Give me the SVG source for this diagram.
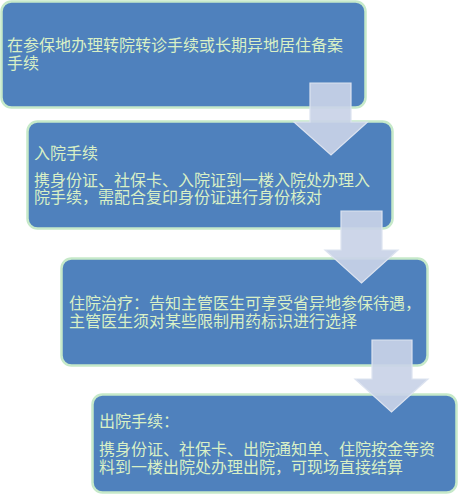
<svg xmlns="http://www.w3.org/2000/svg" width="458" height="495" viewBox="0 0 458 495">
<style>
.box{fill:#4F81BD;stroke:#C6E9C9;stroke-width:2.5}
.t{font-family:"Noto Sans CJK SC","Noto Sans CJK JP",sans-serif;font-size:16px;fill:#D9F0C6}
.arr{fill:#C9D3E7;fill-opacity:0.92;stroke:#DCE3F0;stroke-width:1.2}
</style>
<rect width="458" height="495" fill="#FFFFFF"/>
<g id="node1">
<rect class="box" x="1.5" y="1.5" width="364" height="106" rx="10"/>
<text class="t" x="7" y="51">在参保地办理转院转诊手续或长期异地居住备案</text>
<text class="t" x="7" y="69">手续</text>
</g>
<g id="node2">
<rect class="box" x="27.5" y="121.5" width="365" height="107" rx="10"/>
<text class="t" x="34" y="159">入院手续</text>
<text class="t" x="34" y="186">携身份证、社保卡、入院证到一楼入院处办理入</text>
<text class="t" x="34" y="203">院手续，需配合复印身份证进行身份核对</text>
</g>
<g id="node3">
<rect class="box" x="61.5" y="258.5" width="366" height="107" rx="10"/>
<text class="t" x="69" y="309">住院治疗：告知主管医生可享受省异地参保待遇，</text>
<text class="t" x="69" y="327">主管医生须对某些限制用药标识进行选择</text>
</g>
<g id="node4">
<rect class="box" x="92.5" y="394.5" width="364" height="98" rx="10"/>
<text class="t" x="99" y="427">出院手续：</text>
<text class="t" x="99" y="455">携身份证、社保卡、出院通知单、住院按金等资</text>
<text class="t" x="99" y="473">料到一楼出院处办理出院，可现场直接结算</text>
</g>
<g id="connectors">
<path class="arr" d="M310,83 H351 V122 H367.5 L331,155 L294,122 H310 Z"/>
<path class="arr" d="M341,211 H382 V250 H398 L361.5,283 L325,250 H341 Z"/>
<path class="arr" d="M372,340 H412 V379 H428 L391.5,412 L355,379 H372 Z"/>
</g>
</svg>
